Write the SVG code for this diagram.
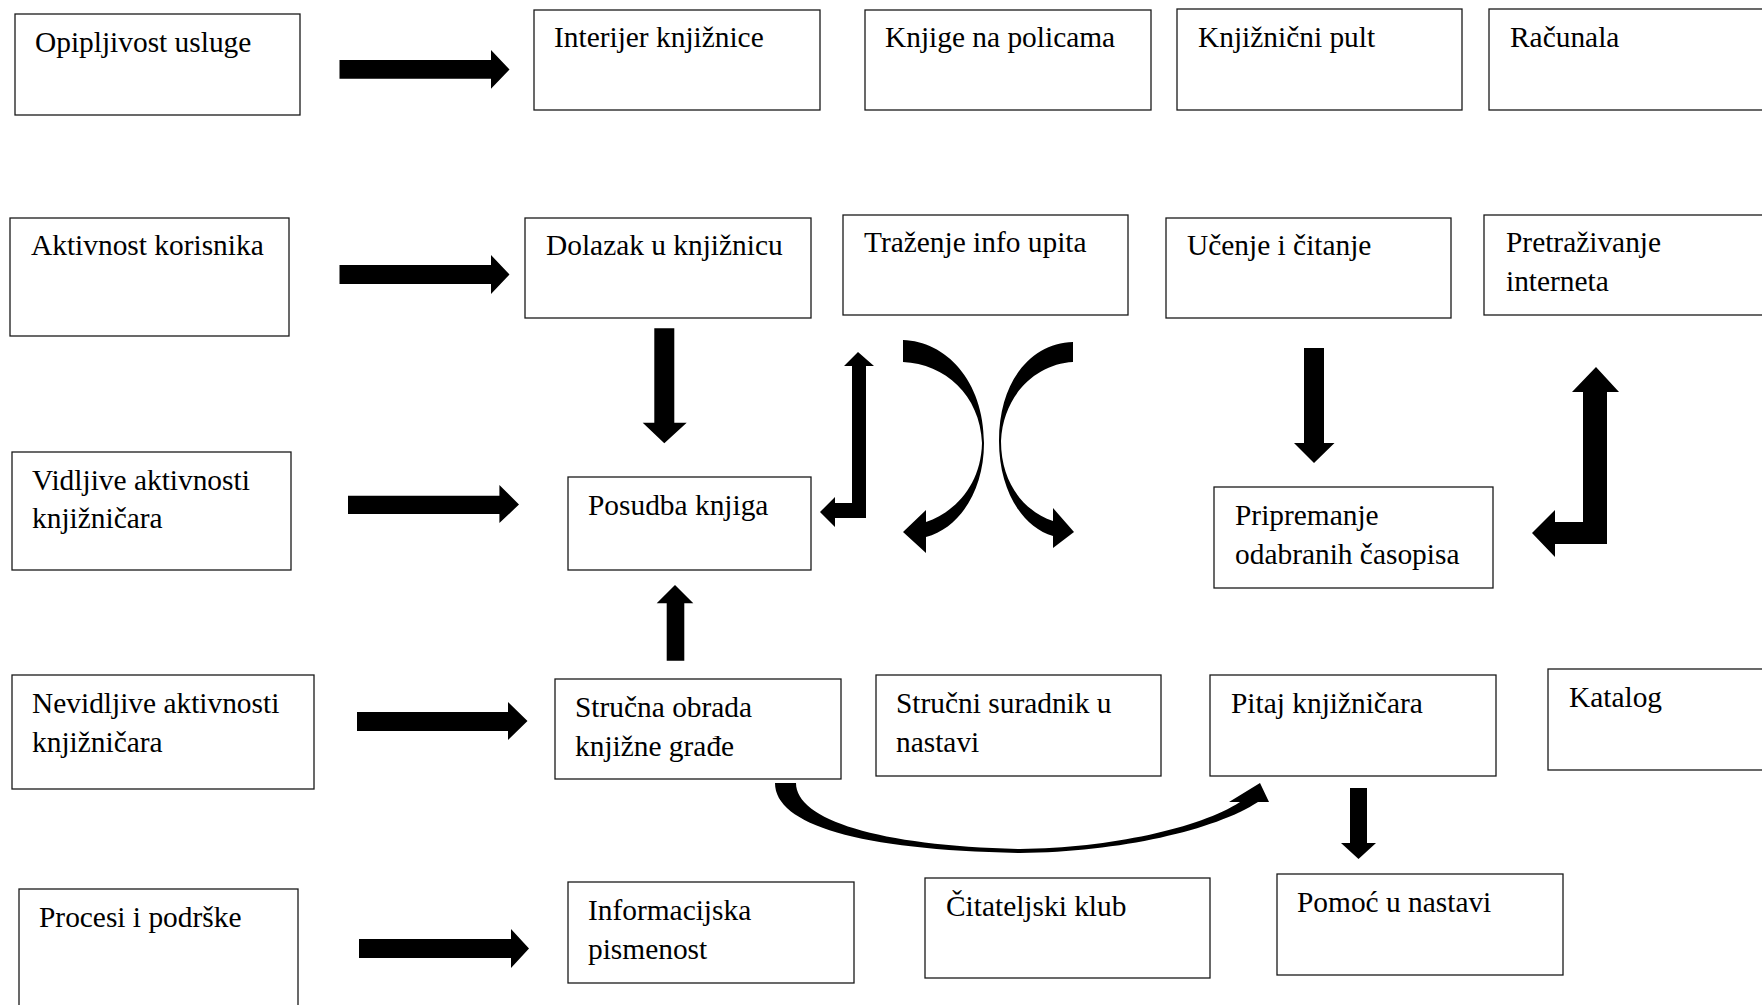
<svg xmlns="http://www.w3.org/2000/svg" width="1762" height="1005" viewBox="0 0 1762 1005">
<style>
.box{fill:#fff;stroke:#1a1a1a;stroke-width:1.3}
.t{font-family:"Liberation Serif","Times New Roman",serif;font-size:29.4px;fill:#000}
.a{fill:#000;stroke:none}
</style>
<rect x="0" y="0" width="1762" height="1005" fill="#fff"/>
<g id="n-opipljivost"><rect class="box" x="15" y="14" width="285" height="101"/><text class="t" x="35" y="52">Opipljivost usluge</text></g>
<g id="n-interijer"><rect class="box" x="534" y="10" width="286" height="100"/><text class="t" x="554" y="47">Interijer knjižnice</text></g>
<g id="n-knjige"><rect class="box" x="865" y="10" width="286" height="100"/><text class="t" x="885" y="47">Knjige na policama</text></g>
<g id="n-pult"><rect class="box" x="1177" y="9" width="285" height="101"/><text class="t" x="1198" y="47">Knjižnični pult</text></g>
<g id="n-racunala"><rect class="box" x="1489" y="9" width="300" height="101"/><text class="t" x="1510" y="47">Računala</text></g>

<g id="n-aktivnost"><rect class="box" x="10" y="218" width="279" height="118"/><text class="t" x="31" y="255">Aktivnost korisnika</text></g>
<g id="n-dolazak"><rect class="box" x="525" y="218" width="286" height="100"/><text class="t" x="546" y="255">Dolazak u knjižnicu</text></g>
<g id="n-trazenje"><rect class="box" x="843" y="215" width="285" height="100"/><text class="t" x="864" y="252">Traženje info upita</text></g>
<g id="n-ucenje"><rect class="box" x="1166" y="218" width="285" height="100"/><text class="t" x="1187" y="255">Učenje i čitanje</text></g>
<g id="n-pretrazivanje"><rect class="box" x="1484" y="215" width="300" height="100"/><text class="t" x="1506" y="252">Pretraživanje</text><text class="t" x="1506" y="291">interneta</text></g>

<g id="n-vidljive"><rect class="box" x="12" y="452" width="279" height="118"/><text class="t" x="32" y="490">Vidljive aktivnosti</text><text class="t" x="32" y="528">knjižničara</text></g>
<g id="n-posudba"><rect class="box" x="568" y="477" width="243" height="93"/><text class="t" x="588" y="515">Posudba knjiga</text></g>
<g id="n-pripremanje"><rect class="box" x="1214" y="487" width="279" height="101"/><text class="t" x="1235" y="525">Pripremanje</text><text class="t" x="1235" y="564">odabranih časopisa</text></g>

<g id="n-nevidljive"><rect class="box" x="12" y="675" width="302" height="114"/><text class="t" x="32" y="713">Nevidljive aktivnosti</text><text class="t" x="32" y="752">knjižničara</text></g>
<g id="n-strucna"><rect class="box" x="555" y="679" width="286" height="100"/><text class="t" x="575" y="717">Stručna obrada</text><text class="t" x="575" y="756">knjižne građe</text></g>
<g id="n-suradnik"><rect class="box" x="876" y="675" width="285" height="101"/><text class="t" x="896" y="713">Stručni suradnik u</text><text class="t" x="896" y="752">nastavi</text></g>
<g id="n-pitaj"><rect class="box" x="1210" y="675" width="286" height="101"/><text class="t" x="1231" y="713">Pitaj knjižničara</text></g>
<g id="n-katalog"><rect class="box" x="1548" y="669" width="250" height="101"/><text class="t" x="1569" y="707">Katalog</text></g>

<g id="n-procesi"><rect class="box" x="19" y="889" width="279" height="140"/><text class="t" x="39" y="927">Procesi i podrške</text></g>
<g id="n-informacijska"><rect class="box" x="568" y="882" width="286" height="101"/><text class="t" x="588" y="920">Informacijska</text><text class="t" x="588" y="959">pismenost</text></g>
<g id="n-citateljski"><rect class="box" x="925" y="878" width="285" height="100"/><text class="t" x="946" y="916">Čitateljski klub</text></g>
<g id="n-pomoc"><rect class="box" x="1277" y="874" width="286" height="101"/><text class="t" x="1297" y="912">Pomoć u nastavi</text></g>

<g id="connectors">
<path class="a" d="M339.5,60 L491,60 L491,50 L509.5,69.4 L491,88.7 L491,78.7 L339.5,78.7 Z"/>
<path class="a" d="M339.5,265 L491,265 L491,255 L509.5,274.5 L491,294 L491,284 L339.5,284 Z"/>
<path class="a" d="M348,495.7 L499.4,495.7 L499.4,485 L519,504.5 L499.4,523 L499.4,514 L348,514 Z"/>
<path class="a" d="M357,712 L508,712 L508,702 L527.5,721 L508,740 L508,731 L357,731 Z"/>
<path class="a" d="M359,939 L511,939 L511,929 L529,948.5 L511,968 L511,958 L359,958 Z"/>
<path class="a" d="M654.3,328.3 L674.3,328.3 L674.3,422.7 L686.7,422.7 L664.3,443.3 L642.7,422.7 L654.3,422.7 Z"/>
<path class="a" d="M666.7,660.7 L684.3,660.7 L684.3,603.3 L693.3,603.3 L675,585 L656.7,603.3 L666.7,603.3 Z"/>
<path class="a" d="M1304,348 L1324,348 L1324,443 L1334.5,443 L1314,463 L1294,443 L1304,443 Z"/>
<path class="a" d="M1350,788 L1367,788 L1367,843 L1376,843 L1358.5,859 L1341,843 L1350,843 Z"/>
<path class="a" d="M858,352 L874,366 L866,366 L866,518 L835,518 L835,527 L820,512 L835,497 L835,503 L852,503 L852,366 L844,366 Z"/>
<path class="a" d="M1596,367 L1619,392 L1607,392 L1607,544 L1555,544 L1555,557 L1532,533 L1555,510 L1555,522 L1583,522 L1583,392 L1572,392 Z"/>
<path class="a" d="M903,340 C945,341 984,380 984,443 C984,490 960,528 926,537 L926,553 L903,532 L926,510 L926,522 C955,512 981,485 982,443 C980,395 945,364 903,362 Z"/>
<path class="a" d="M1073,342 C1032,343 999,380 999,441 C999,490 1022,527 1053,536 L1053,548 L1074,532 L1053,508 L1053,521 C1026,512 1001,485 1001,441 C1003,395 1036,364 1073,362 Z"/>
<path class="a" d="M775,783 C775,825 860,850 1020,853 C1120,852 1215,830 1258,802 L1269,802 L1260,783 L1229,802 L1240,802 C1200,828 1110,848 1020,849 C880,846 796,820 796,783 Z"/>
</g>
</svg>
